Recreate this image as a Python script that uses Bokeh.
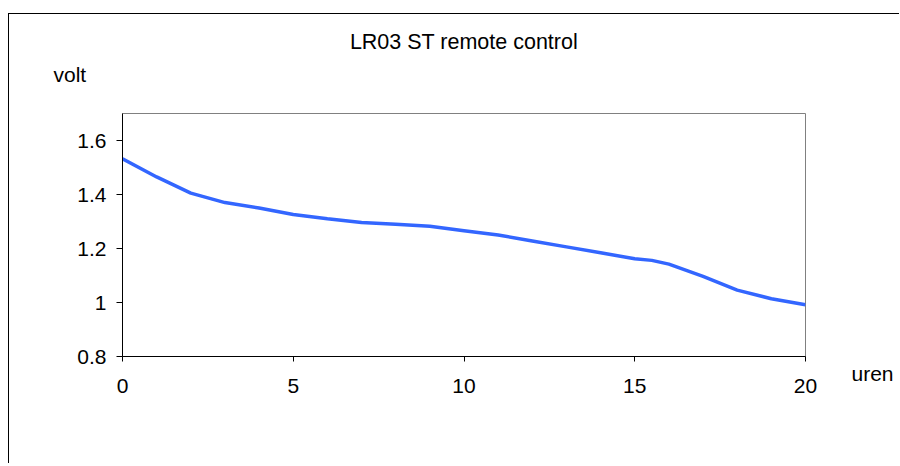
from bokeh.plotting import figure
from bokeh.models import (Range1d, FixedTicker, CustomJSTickFormatter, ColumnDataSource,
                          Title, LinearAxis)
from bokeh.embed import file_html
from bokeh.resources import INLINE

# data
hours = [0, 1, 2, 3, 4, 5, 6, 7, 8, 9, 10, 11, 12, 13, 14, 15, 15.5, 16, 17, 18, 19, 20]
volts = [1.532, 1.465, 1.405, 1.370, 1.350, 1.326, 1.310, 1.296, 1.290, 1.282, 1.266,
         1.250, 1.228, 1.206, 1.184, 1.162, 1.156, 1.142, 1.097, 1.046, 1.014, 0.992]
x_ticks = [0, 5, 10, 15, 20]
y_ticks = [0.8, 1.0, 1.2, 1.4, 1.6]
title_text = "LR03 ST remote control"
y_label = "volt"
x_label = "uren"

FONT = "Liberation Sans"
FS = "21px"

p = figure(width=891, height=450, output_backend="svg", toolbar_location=None,
           x_range=Range1d(0, 20), y_range=Range1d(0.8, 1.7),
           min_border_left=113, min_border_right=95, min_border_top=99, min_border_bottom=108)
p.margin = (13, 0, 0, 8)
p.styles = {"border-left": "1px solid black", "border-top": "1px solid black"}

p.background_fill_color = "white"
p.border_fill_color = "white"
p.outline_line_color = "#808080"
p.outline_line_width = 1
p.xgrid.visible = False
p.ygrid.visible = False

src = ColumnDataSource(data=dict(x=hours, y=volts))
p.line("x", "y", source=src, line_color="#3366FF", line_width=3.5)

for ax in (p.xaxis[0], p.yaxis[0]):
    ax.axis_line_color = "black"
    ax.major_tick_line_color = "black"
    ax.minor_tick_line_color = None
    ax.major_tick_in = 0
    ax.major_label_text_font = FONT
    ax.major_label_text_font_size = FS
    ax.major_label_text_color = "black"

p.xaxis[0].ticker = FixedTicker(ticks=x_ticks)
p.xaxis[0].major_tick_out = 5
p.xaxis[0].major_label_standoff = 17
p.yaxis[0].ticker = FixedTicker(ticks=y_ticks)
p.yaxis[0].major_tick_out = 6
p.yaxis[0].major_label_standoff = 10
p.yaxis[0].formatter = CustomJSTickFormatter(code="return (+tick.toFixed(1)).toString();")

# "volt" caption above the frame, left of it
p.add_layout(Title(text=y_label, align="left", offset=-69, standoff=55,
                   text_font=FONT, text_font_size=FS, text_font_style="normal",
                   text_color="black"), "above")
# chart title
try:
    t = Title(text=title_text, align="center", offset=-3, standoff=-40,
              text_font=FONT, text_font_size="21.5px", text_font_style="normal",
              text_color="black")
except Exception:
    t = Title(text=title_text, align="center", offset=-3, standoff=0,
              text_font=FONT, text_font_size="21.5px", text_font_style="normal",
              text_color="black")
p.add_layout(t, "above")

# "uren" caption right of the x axis end (a one-tick axis on the right)
p.extra_y_ranges = {"u": Range1d(0, 1)}
ua = LinearAxis(y_range_name="u", ticker=FixedTicker(ticks=[0]),
                major_label_overrides={0: "\n" + x_label})
ua.axis_line_color = None
ua.major_tick_line_color = None
ua.minor_tick_line_color = None
ua.major_tick_in = 0
ua.major_tick_out = 0
ua.major_label_standoff = 46
ua.major_label_text_line_height = 1.5
ua.major_label_text_font = FONT
ua.major_label_text_font_size = FS
ua.major_label_text_color = "black"
p.add_layout(ua, "right")

open("out.html", "w").write(file_html(p, INLINE))
